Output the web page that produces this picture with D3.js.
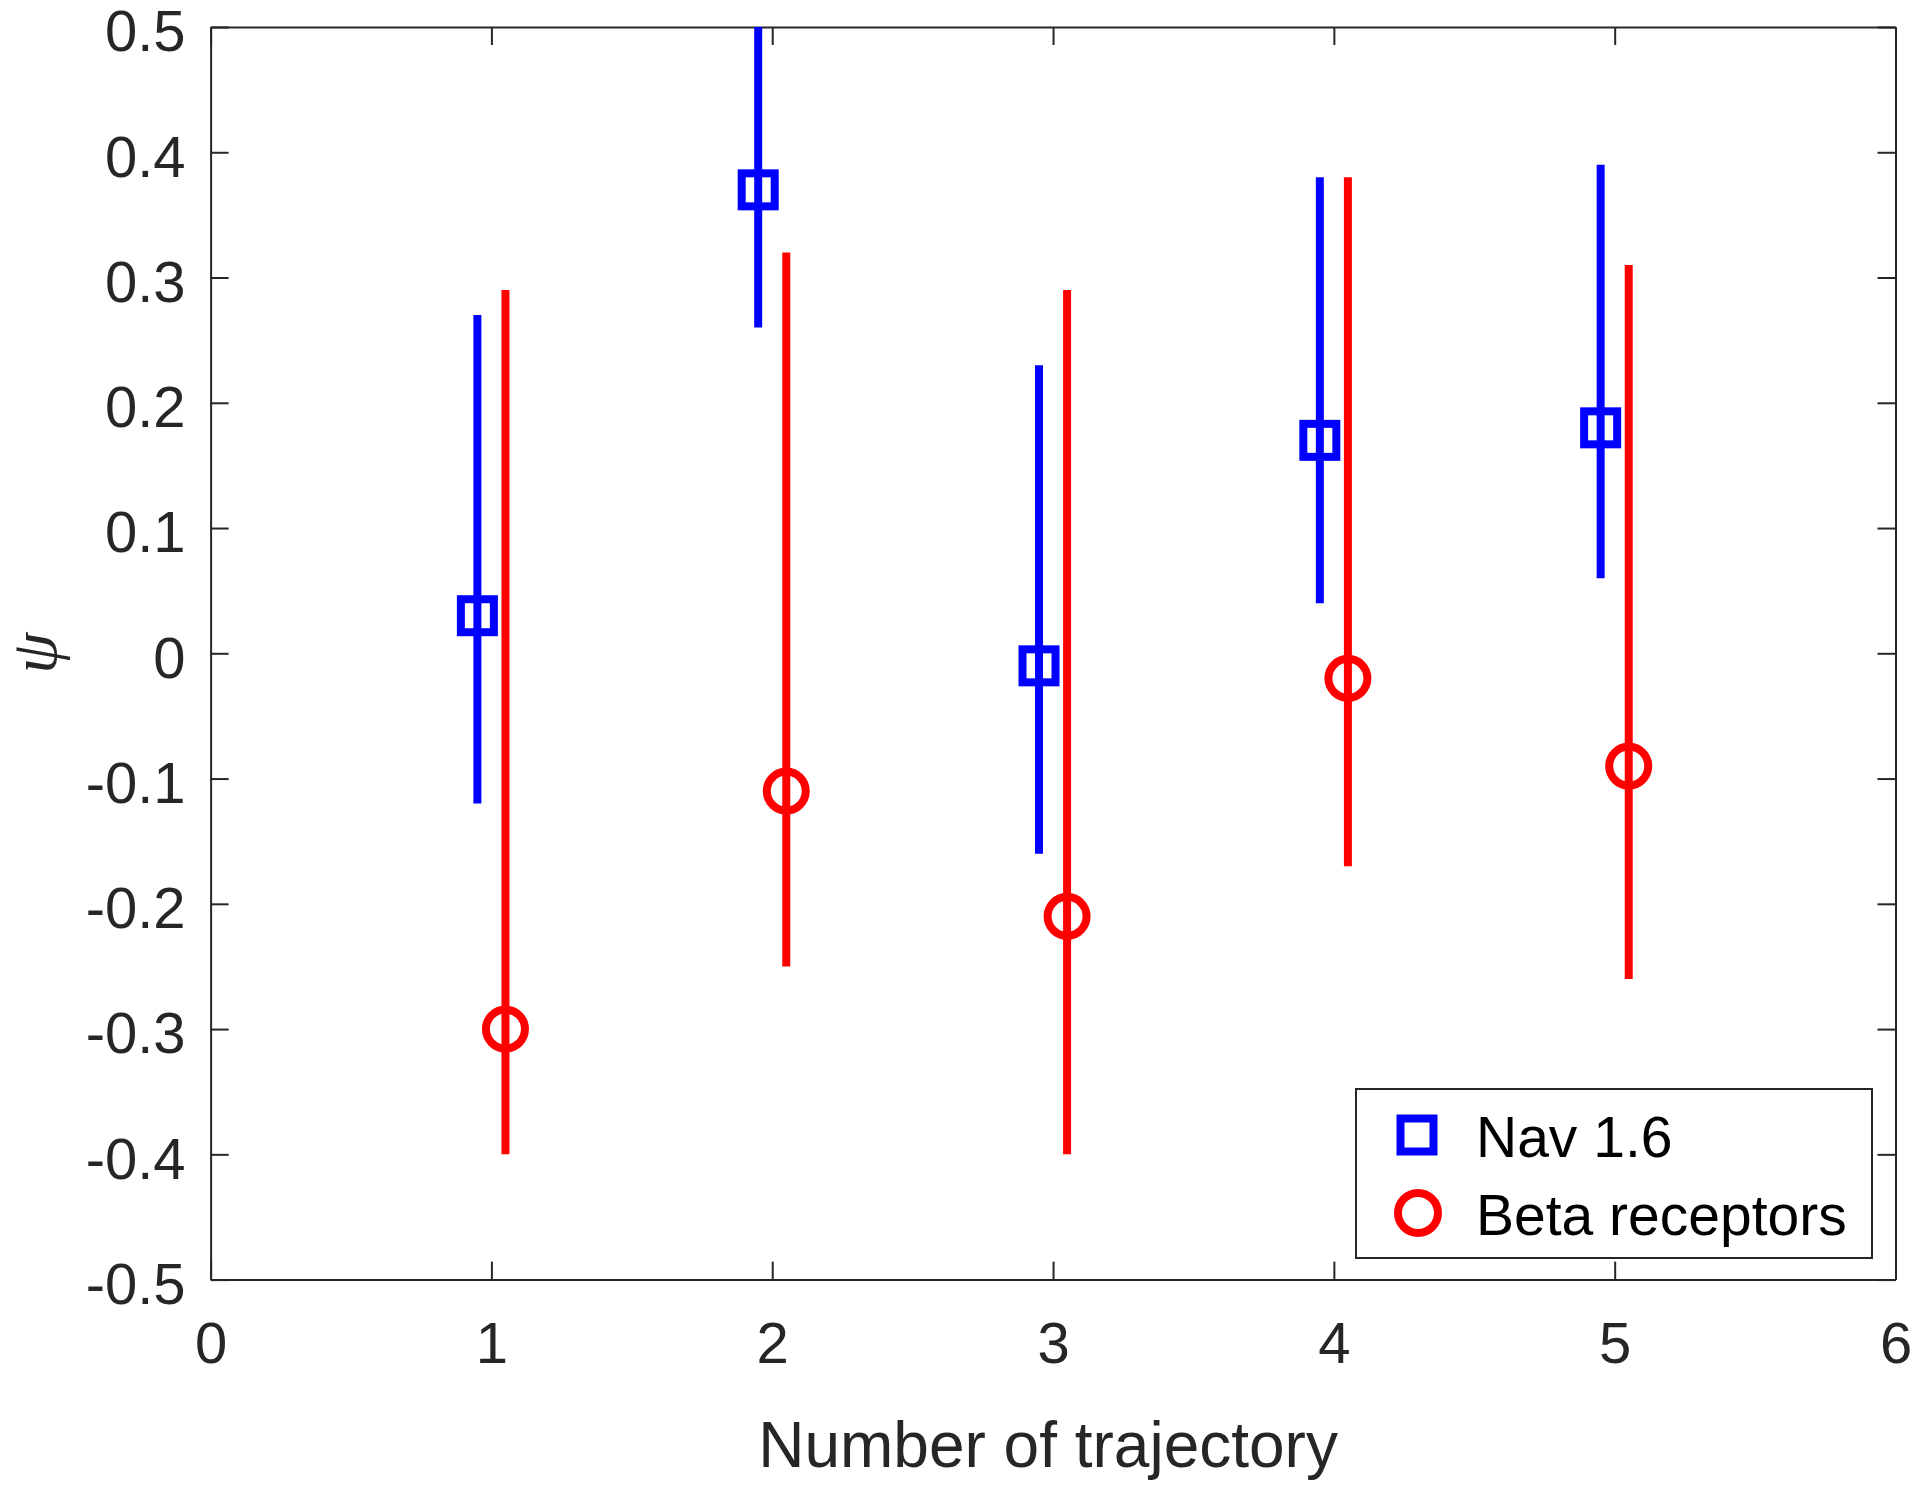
<!DOCTYPE html>
<html>
<head>
<meta charset="utf-8">
<script src="https://cdn.jsdelivr.net/npm/d3@7"></script>
<style>
  body { margin: 0; background: #fff; }
  svg { display: block; font-family: "Liberation Sans", Arial, Helvetica, sans-serif; }
</style>
</head>
<body>
<svg id="chart" width="1920" height="1491"></svg>
<script>
// trajectory numbers
const trajectories = [1, 2, 3, 4, 5];

// Nav 1.6 (blue squares)
const navMean = [0.03, 0.37, -0.01, 0.17, 0.18];
const navLow = [-0.12, 0.26, -0.16, 0.04, 0.06];
const navHigh = [0.27, 0.5, 0.23, 0.38, 0.39];

// Beta receptors (red circles)
const betaMean = [-0.30, -0.11, -0.21, -0.02, -0.09];
const betaLow = [-0.40, -0.25, -0.40, -0.17, -0.26];
const betaHigh = [0.29, 0.32, 0.29, 0.38, 0.31];

const xTicks = [0, 1, 2, 3, 4, 5, 6];
const yTicks = [-0.5, -0.4, -0.3, -0.2, -0.1, 0, 0.1, 0.2, 0.3, 0.4, 0.5];
const yTickLabels = ["-0.5", "-0.4", "-0.3", "-0.2", "-0.1", "0", "0.1", "0.2", "0.3", "0.4", "0.5"];

const seriesNames = ["Nav 1.6", "Beta receptors"];

function main() {
  let svg = d3.select("#chart"),
    left = 210.6,
    right = 1895.5,
    top = 27,
    bottom = 1279.6,
    axisColor = "#262626",
    offset = 0.05;

  let xScale = d3.scaleLinear().domain([0, 6]).range([left, right]),
    yScale = d3.scaleLinear().domain([-0.5, 0.5]).range([bottom, top]);

  svg.append("defs").append("clipPath").attr("id", "plotclip")
    .append("rect")
    .attr("x", left).attr("y", top)
    .attr("width", right - left).attr("height", bottom - top);

  // axes, ticks pointing inwards on all four sides
  function styleAxis(g) {
    g.select(".domain").attr("stroke", axisColor).attr("stroke-width", 2);
    g.selectAll(".tick line").attr("stroke", axisColor).attr("stroke-width", 2);
    g.selectAll(".tick text").attr("fill", axisColor).attr("font-size", "58px")
      .attr("font-family", "Liberation Sans, Arial, Helvetica, sans-serif");
  }

  svg.append("g")
    .attr("transform", "translate(0," + bottom + ")")
    .call(d3.axisBottom(xScale).tickValues(xTicks).tickFormat(d3.format("d"))
      .tickSizeInner(-18).tickSizeOuter(0).tickPadding(42))
    .call(styleAxis);

  svg.append("g")
    .attr("transform", "translate(0," + top + ")")
    .call(d3.axisTop(xScale).tickValues(xTicks).tickFormat("")
      .tickSizeInner(-18).tickSizeOuter(0))
    .call(styleAxis);

  let yAxis = svg.append("g")
    .attr("transform", "translate(" + left + ",0)")
    .call(d3.axisLeft(yScale).tickValues(yTicks)
      .tickFormat(function (d, i) { return yTickLabels[i]; })
      .tickSizeInner(-18).tickSizeOuter(0).tickPadding(25))
    .call(styleAxis);
  yAxis.selectAll(".tick text").attr("dy", "0.41em");

  svg.append("g")
    .attr("transform", "translate(" + right + ",0)")
    .call(d3.axisRight(yScale).tickValues(yTicks).tickFormat("")
      .tickSizeInner(-18).tickSizeOuter(0))
    .call(styleAxis);

  // axis labels
  svg.append("text")
    .attr("x", (left + right) / 2 - 5)
    .attr("y", 1467)
    .attr("text-anchor", "middle")
    .attr("font-size", "64px")
    .attr("fill", axisColor)
    .text("Number of trajectory");

  svg.append("text")
    .attr("transform", "translate(56," + (top + bottom) / 2 + ") rotate(-90)")
    .attr("text-anchor", "middle")
    .attr("font-size", "66px")
    .attr("font-style", "italic")
    .attr("font-family", "Liberation Serif, 'DejaVu Serif', serif")
    .attr("fill", axisColor)
    .text("\u03c8");

  let plot = svg.append("g").attr("clip-path", "url(#plotclip)");

  function drawSeries(mean, low, high, dx, color, shape) {
    let g = plot.append("g");
    g.selectAll("line")
      .data(trajectories)
      .enter()
      .append("line")
      .attr("x1", function (d) { return xScale(d + dx); })
      .attr("x2", function (d) { return xScale(d + dx); })
      .attr("y1", function (d, i) { return yScale(low[i]); })
      .attr("y2", function (d, i) { return yScale(high[i]); })
      .attr("stroke", color)
      .attr("stroke-width", 8);

    if (shape === "square") {
      g.selectAll("rect")
        .data(trajectories)
        .enter()
        .append("rect")
        .attr("x", function (d) { return xScale(d + dx) - 16.5; })
        .attr("y", function (d, i) { return yScale(mean[i]) - 16.5; })
        .attr("width", 33)
        .attr("height", 33)
        .attr("fill", "none")
        .attr("stroke", color)
        .attr("stroke-width", 8);
    } else {
      g.selectAll("circle")
        .data(trajectories)
        .enter()
        .append("circle")
        .attr("cx", function (d) { return xScale(d + dx); })
        .attr("cy", function (d, i) { return yScale(mean[i]); })
        .attr("r", 19.5)
        .attr("fill", "none")
        .attr("stroke", color)
        .attr("stroke-width", 8);
    }
  }

  drawSeries(navMean, navLow, navHigh, -offset, "#0000ff", "square");
  drawSeries(betaMean, betaLow, betaHigh, offset, "#ff0000", "circle");

  // legend
  let legend = svg.append("g");
  legend.append("rect")
    .attr("x", 1356).attr("y", 1089)
    .attr("width", 516).attr("height", 169)
    .attr("fill", "#fff")
    .attr("stroke", axisColor)
    .attr("stroke-width", 2);

  legend.append("rect")
    .attr("x", 1417 - 16.5).attr("y", 1135 - 16.5)
    .attr("width", 33).attr("height", 33)
    .attr("fill", "none").attr("stroke", "#0000ff").attr("stroke-width", 8);
  legend.append("circle")
    .attr("cx", 1418).attr("cy", 1213).attr("r", 20)
    .attr("fill", "none").attr("stroke", "#ff0000").attr("stroke-width", 8);

  legend.selectAll(".label")
    .data(seriesNames)
    .enter()
    .append("text")
    .attr("class", "label")
    .attr("x", 1476)
    .attr("y", function (d, i) { return 1157 + i * 78; })
    .attr("font-size", "57px")
    .attr("fill", "#000")
    .text(function (d) { return d; });
}

main();
</script>
</body>
</html>
